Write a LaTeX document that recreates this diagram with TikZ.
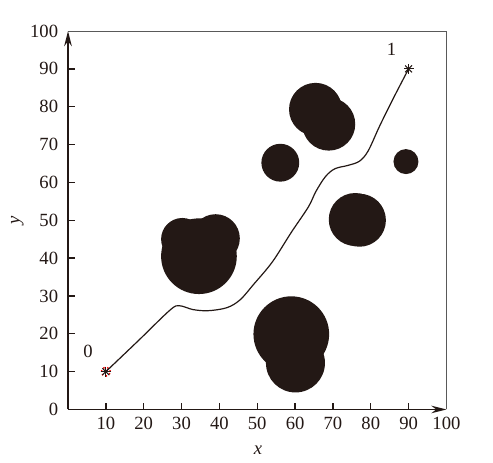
\documentclass[tikz,border=0pt]{standalone}
\definecolor{obstblack}{RGB}{35, 24, 21}
\usepackage{fontspec}
\setmainfont{Liberation Serif}
\usepackage{tikz}
\usetikzlibrary{arrows.meta, positioning}

\tikzset{
  axisline/.style={draw=obstblack, line width=1.3pt, -{Stealth[length=4mm, width=2mm]}},
  frameline/.style={draw=black!65, line width=0.7pt},
  obstacle/.style={fill=obstblack, draw=none},
  pathline/.style={draw=obstblack, line width=0.9pt},
  ticklabel/.style={font=\fontsize{14}{16}\selectfont, text=obstblack, inner sep=1pt},
  starmark/.style={draw=obstblack, line width=0.8pt}
}

\begin{document}
\begin{tikzpicture}[x=0.1cm, y=0.1cm]
  \useasboundingbox (-17.97,-14.13) rectangle (112.3,108.2);

  % frame and axes
  \coordinate (origin) at (0,0);
  \coordinate (xend) at (100,0);
  \coordinate (yend) at (0,100);
  \coordinate (corner) at (100,100);
  \draw[frameline] (yend) -- (corner) -- (xend);
  \draw[axisline] (origin) -- (xend);
  \draw[axisline] (origin) -- (yend);

  % ticks and tick labels
  \foreach \t in {10,20,...,90} {
    \draw[draw=obstblack, line width=1pt] (\t,0) -- (\t,1.8);
    \draw[draw=obstblack, line width=1pt] (0,\t) -- (1.8,\t);
  }
  \foreach \t in {10,20,...,100}
    \node[ticklabel, anchor=north] (xt\t) at (\t,-1.6) {\t};
  \foreach \t in {0,10,...,100}
    \node[ticklabel, anchor=east] (yt\t) at (-2.2,\t) {\t};
  \node[ticklabel, font=\fontsize{14}{16}\selectfont\itshape] (xlabel) at (50.2,-10.9) {x};
  \node[ticklabel, font=\fontsize{14}{16}\selectfont\itshape, rotate=90] (ylabel) at (-13.4,50) {y};

  % obstacles
  \foreach \cx/\cy/\r in {34.6/40.5/10, 30.2/45/5.6, 39/45.2/6.4,
                          65.4/79.3/7, 68.9/75.4/7,
                          56.1/65.2/5, 89.3/65.5/3.3,
                          75.9/50.2/7, 77/50/7,
                          59/19.9/10, 60.1/12.3/7.8}
    \fill[obstacle] (\cx,\cy) circle (\r);

  % planned path
  \coordinate (start) at (10,10);
  \coordinate (goal) at (90,90);
  \draw[pathline] plot[smooth, tension=0.55] coordinates {(10,10) (18.5,18.1) (27,26.3) (29.5,27.4) (33,26.4) (37,26.1) (42,26.9) (45.5,29) (49,33) (54,39) (59,46.8) (63.5,53.5) (65.5,57.6) (68,61.5) (70.5,63.6) (74,64.5) (77,65.6) (79.3,68.3) (82.3,74.8) (85.8,81.9) (90,90)};

  % start and goal markers
  \draw[red, line width=1.1pt, dotted] (start) circle (1.2);
  \foreach \p in {start, goal} {
    \foreach \a in {0,45,90,135}
      \draw[starmark] ([shift={(\a:1.3)}]\p) -- ([shift={(\a+180:1.3)}]\p);
  }
  \node[ticklabel] (startlabel) at (5.3,15.4) {0};
  \node[ticklabel] (goallabel) at (85.5,95.1) {1};
\end{tikzpicture}
\end{document}
